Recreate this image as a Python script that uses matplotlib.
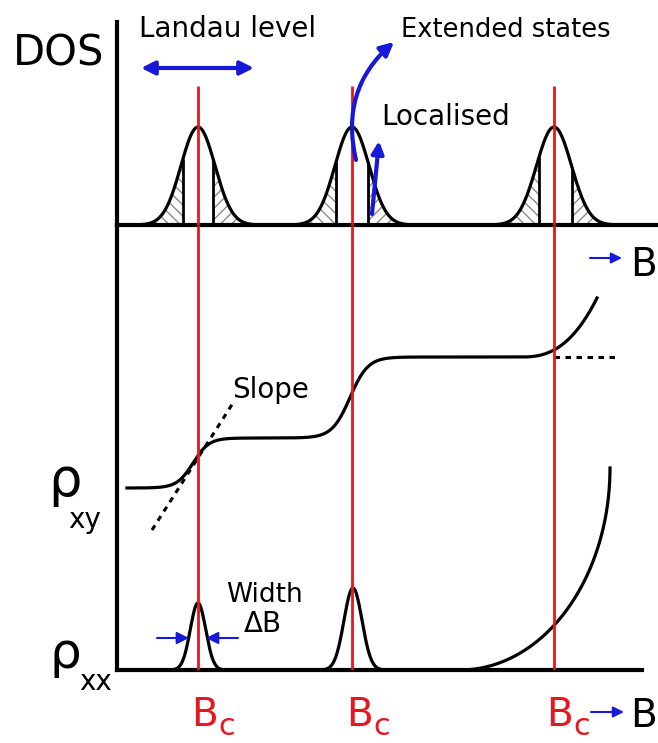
import numpy as np
import matplotlib
matplotlib.use('Agg')
import matplotlib.pyplot as plt

# ---------------- data (field B in arbitrary units) ----------------
B_c = [0.81, 2.35, 4.37]                 # critical fields (red lines)
dos_center = [0.81, 2.35, 4.37]
dos_height = [1.0, 1.0, 1.0]
dos_sigma = [0.17, 0.17, 0.175]
edge_left = [0.66, 2.19, 4.22]           # mobility edges
edge_right = [0.96, 2.51, 4.55]

rxy_base = 1.82
rxy_step_center = [0.76, 2.33]
rxy_step_height = [0.50, 0.81]
rxy_step_width = [0.08, 0.09]
rxy_rise_start = 4.03
rxy_rise_end = 4.80
rxy_rise_height = 0.59
rxy_rise_power = 2.6
rxy_B_range = [0.10, 4.80]
slope_B = [0.35, 1.16]
slope_rho = [1.40, 2.67]
plateau_B = [4.37, 5.00]
plateau_rho = [3.13, 3.13]

rxx_peak_center = [0.81, 2.36]
rxx_peak_height = [0.67, 0.82]
rxx_peak_sigma = [0.077, 0.09]
rxx_rise_start = 3.43
rxx_rise_end = 4.93
rxx_rise_height = 2.02

# ---------------- styles ----------------
W, H = 658, 743
RED = '#e8161e'
BLUE = '#1818d8'
FONT = 'DejaVu Sans'
AX_LW = 3.0
CURVE_LW = 2.3

fig = plt.figure(figsize=(W / 100, H / 100), dpi=100)


def rect(l, t, r, b):
    return [l / W, 1 - b / H, (r - l) / W, (b - t) / H]


ax_top = fig.add_axes(rect(117, 22, 658, 225))
ax_bot = fig.add_axes(rect(117, 225, 642, 670))
for ax in (ax_top, ax_bot):
    ax.set_facecolor('none')
    ax.set_xticks([])
    ax.set_yticks([])
    for s in ('top', 'right'):
        ax.spines[s].set_visible(False)
    for s in ('left', 'bottom'):
        ax.spines[s].set_linewidth(AX_LW)
        ax.spines[s].set_color('black')
        ax.spines[s].set_capstyle('projecting')
ax_top.set_xlim(0, 5.41)
ax_top.set_ylim(0, (225 - 22) / 98)
ax_bot.set_xlim(0, 5.25)
ax_bot.set_ylim(0, 4.45)


def dos(B):
    B = np.asarray(B, dtype=float)
    out = np.zeros_like(B)
    for c, h, s in zip(dos_center, dos_height, dos_sigma):
        out += h * np.exp(-0.5 * ((B - c) / s) ** 2)
    return out


# ---- DOS panel ----
Bd = np.linspace(0, 5.41, 3000)
ax_top.plot(Bd, dos(Bd), color='black', lw=CURVE_LW, zorder=3, clip_on=False)
for c, s, el, er in zip(dos_center, dos_sigma, edge_left, edge_right):
    bl = np.linspace(c - 3.2 * s, el, 100)
    br = np.linspace(er, c + 3.2 * s, 100)
    ax_top.fill_between(bl, 0, dos(bl), facecolor='none', edgecolor='#8c8c8c',
                        hatch='\\\\\\', linewidth=0, zorder=2)
    ax_top.fill_between(br, 0, dos(br), facecolor='none', edgecolor='#8c8c8c',
                        hatch='///', linewidth=0, zorder=2)
    ax_top.vlines([el, er], 0, dos([el, er]), color='black', lw=2.0, zorder=3)
ax_top.vlines(B_c, 0, 1.42, color=RED, lw=2.0, zorder=4)

# ---- rho panel ----
Bx = np.linspace(rxy_B_range[0], rxy_B_range[1], 3000)
rxy = np.full_like(Bx, rxy_base)
for c, h, w in zip(rxy_step_center, rxy_step_height, rxy_step_width):
    rxy += h / (1 + np.exp(-(Bx - c) / w))
m = Bx > rxy_rise_start
rxy[m] += rxy_rise_height * ((Bx[m] - rxy_rise_start) / (rxy_rise_end - rxy_rise_start)) ** rxy_rise_power
ax_bot.plot(Bx, rxy, color='black', lw=CURVE_LW, zorder=3)
ax_bot.plot(slope_B, slope_rho, color='black', lw=2.2, linestyle=(0, (1.8, 1.8)), zorder=3)
ax_bot.plot(plateau_B, plateau_rho, color='black', lw=2.2, linestyle=(0, (1.8, 1.8)), zorder=3)

Bxx = np.linspace(0, rxx_rise_start, 1500)
rxx = np.zeros_like(Bxx)
for c, h, s in zip(rxx_peak_center, rxx_peak_height, rxx_peak_sigma):
    rxx += h * np.exp(-0.5 * ((Bxx - c) / s) ** 2)
t = np.linspace(0, np.pi / 2, 600)
Br = rxx_rise_start + (rxx_rise_end - rxx_rise_start) * np.sin(t)
rr = rxx_rise_height * (1 - np.cos(t))
ax_bot.plot(np.concatenate([Bxx, Br]), np.concatenate([rxx, rr]),
            color='black', lw=CURVE_LW, zorder=3, clip_on=False)
ax_bot.vlines(B_c, 0, 4.45, color=RED, lw=2.0, zorder=4)

# ---------------- annotation overlay (pixel coordinates) ----------------
ov = fig.add_axes([0, 0, 1, 1], zorder=10)
ov.set_xlim(0, W)
ov.set_ylim(H, 0)
ov.axis('off')
ov.patch.set_alpha(0)


def txt(x, y, s, size, color='black'):
    ov.text(x, y, s, fontsize=size, color=color, family=FONT, ha='left', va='baseline')


txt(13, 65, 'DOS', 30)
txt(139, 37, 'Landau level', 20)
txt(401, 37, 'Extended states', 18.5)
txt(381, 125, 'Localised', 20)
txt(232, 398, 'Slope', 20)
txt(226, 602, 'Width', 19)
txt(244, 632, '\u0394B', 20)
txt(48, 496, '\u03c1', 38)
txt(68, 528, 'xy', 20)
txt(50, 668, '\u03c1', 36)
txt(79, 690, 'xx', 20)
for x in (191, 346, 546):
    txt(x, 726, 'B', 28, RED)
    txt(x + 27, 735, 'c', 22, RED)
txt(630, 727, 'B', 28)
txt(630, 276, 'B', 28)


def arrow(x0, y0, x1, y1, style='-|>', conn='arc3', ms=18, lw=2.5):
    ov.annotate('', xy=(x1, y1), xytext=(x0, y0),
                arrowprops=dict(arrowstyle=style, color=BLUE, lw=lw,
                                mutation_scale=ms, shrinkA=0, shrinkB=0,
                                connectionstyle=conn))


arrow(141, 68, 254, 68, style='<|-|>', ms=20, lw=3)
arrow(356, 160, 394, 42, conn='arc3,rad=-0.3', ms=20, lw=3)
arrow(372, 214, 379, 141, ms=18, lw=3)
arrow(157, 638, 189, 638, ms=18, lw=1.5)
arrow(238, 638, 206, 638, ms=18, lw=1.5)
arrow(590, 258, 622, 258, ms=16, lw=1.5)
arrow(591, 712, 624, 712, ms=16, lw=1.5)

fig.savefig('out.png', dpi=100)
